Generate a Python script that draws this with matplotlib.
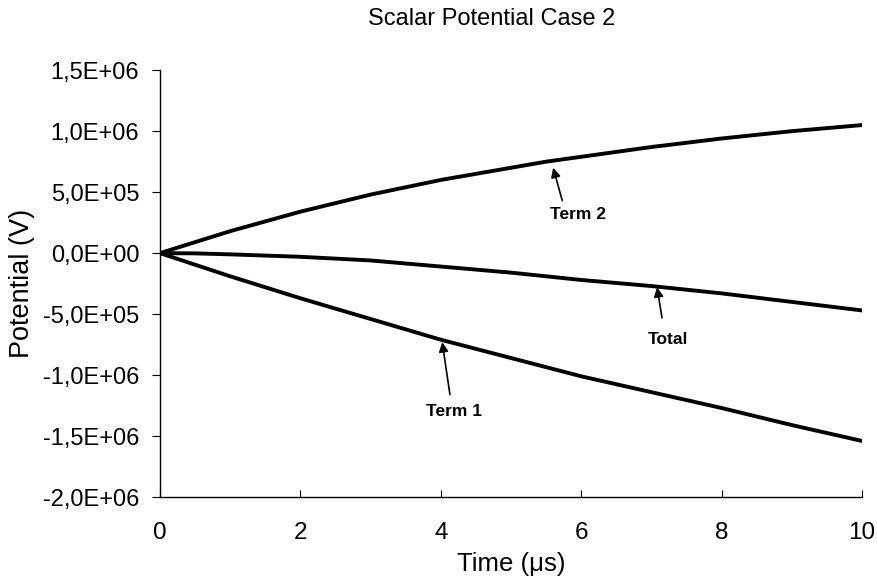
import matplotlib.pyplot as plt
from matplotlib.ticker import FuncFormatter

# data, time in microseconds, potential in volts
time_us = [0, 0.5, 1, 1.5, 2, 2.5, 3, 3.5, 4, 4.5, 5,
           5.5, 6, 6.5, 7, 7.5, 8, 8.5, 9, 9.5, 10]
term1 = [0, -0.095e6, -0.19e6, -0.28e6, -0.37e6, -0.455e6, -0.54e6, -0.625e6, -0.71e6, -0.785e6, -0.86e6,
         -0.935e6, -1.01e6, -1.075e6, -1.14e6, -1.205e6, -1.27e6, -1.34e6, -1.41e6, -1.475e6, -1.54e6]
term2 = [0, 0.09e6, 0.18e6, 0.26e6, 0.34e6, 0.41e6, 0.48e6, 0.54e6, 0.60e6, 0.65e6, 0.70e6,
         0.75e6, 0.79e6, 0.83e6, 0.87e6, 0.905e6, 0.94e6, 0.97e6, 1.00e6, 1.025e6, 1.05e6]
total = [0, -0.002e6, -0.01e6, -0.02e6, -0.03e6, -0.045e6, -0.06e6, -0.085e6, -0.11e6, -0.135e6, -0.16e6,
         -0.19e6, -0.22e6, -0.245e6, -0.27e6, -0.30e6, -0.33e6, -0.365e6, -0.40e6, -0.435e6, -0.47e6]

x_ticks = [0, 2, 4, 6, 8, 10]
y_ticks = [-2.0e6, -1.5e6, -1.0e6, -0.5e6, 0, 0.5e6, 1.0e6, 1.5e6]

# annotations: label, arrow tip, arrow tail, text centre (t, V)
labels = ["Term 2", "Total", "Term 1"]
tips = [(5.60, 0.70e6), (7.08, -0.28e6), (4.02, -0.73e6)]
tails = [(5.73, 0.43e6), (7.15, -0.53e6), (4.13, -1.16e6)]
text_pos = [(5.95, 0.32e6), (7.24, -0.705e6), (4.19, -1.295e6)]

plt.rcParams["font.family"] = ["Liberation Sans", "DejaVu Sans"]


def sci_comma(v, pos):
    # 1,5E+06 style (decimal comma)
    return ("%.1E" % v).replace(".", ",")


fig = plt.figure(figsize=(8.77, 5.8), dpi=100)
ax = fig.add_subplot(111)
fig.subplots_adjust(left=0.1824, right=0.983, top=0.879, bottom=0.143)

for y in (term1, term2, total):
    ax.plot(time_us, y, color="black", lw=2.8, solid_capstyle="round")

for lab, tip, tail, tp in zip(labels, tips, tails, text_pos):
    ax.annotate("", xy=tip, xytext=tail,
                arrowprops=dict(arrowstyle="-|>", color="black", lw=1.2,
                                shrinkA=0, shrinkB=0, mutation_scale=14))
    ax.text(tp[0], tp[1], lab, ha="center", va="center",
            fontsize=12.5, fontweight="bold")

ax.set_xlim(0, 10)
ax.set_ylim(-2.0e6, 1.5e6)
ax.set_xticks(x_ticks)
ax.set_yticks(y_ticks)
ax.yaxis.set_major_formatter(FuncFormatter(sci_comma))

ax.spines["top"].set_visible(False)
ax.spines["right"].set_visible(False)
for s in ("left", "bottom"):
    ax.spines[s].set_linewidth(1.0)
ax.tick_params(axis="x", direction="in", length=5, pad=18, labelsize=17.5)
ax.tick_params(axis="y", direction="out", length=6, pad=9, labelsize=17)

ax.set_xlabel("Time (μs)", fontsize=18.5)
ax.set_ylabel("Potential (V)", fontsize=19.5)
ax.xaxis.set_label_coords(0.5, (497 - 564) / 427)
ax.xaxis.label.set_va("center")
ax.yaxis.set_label_coords((22 - 160) / 702, 0.5)
ax.yaxis.label.set_va("center")

fig.text(492 / 877, 1 - 19 / 580, "Scalar Potential Case 2",
         ha="center", va="center", fontsize=17)

fig.savefig("out.png", dpi=100)
